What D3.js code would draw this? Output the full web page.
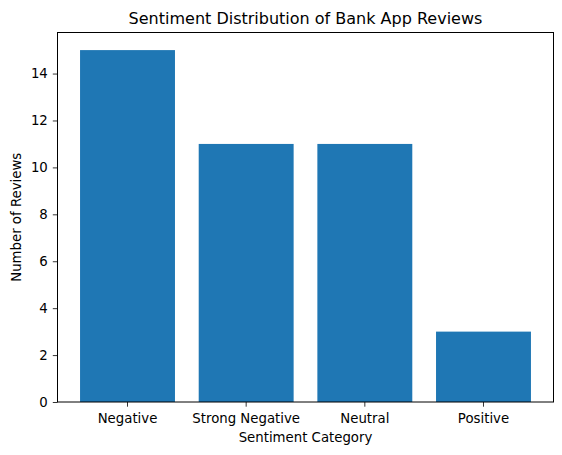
<!DOCTYPE html>
<html>
<head>
<meta charset="utf-8">
<script src="https://cdn.jsdelivr.net/npm/d3@7"></script>
<style>
  body { margin: 0; background: #fff; }
  svg { display: block; font-family: "DejaVu Sans", sans-serif; overflow: visible; }
</style>
</head>
<body>
<svg id="chart"></svg>
<script>
const categories = ['Negative', 'Strong Negative', 'Neutral', 'Positive'];
const reviewCounts = [15, 11, 11, 3];
const yTicks = [0, 2, 4, 6, 8, 10, 12, 14];

const width = 562;
const height = 455;
const margin = { top: 32.5, right: 8.5, bottom: 53, left: 57.5 };
const innerWidth = width - margin.left - margin.right;
const innerHeight = height - margin.top - margin.bottom;

const svg = d3.select('#chart')
  .attr('width', width)
  .attr('height', height);

const g = svg.append('g')
  .attr('transform', `translate(${margin.left},${margin.top})`);

// scales (matplotlib-like: bar width 0.8, 5% margins)
const x = d3.scaleBand()
  .domain(categories)
  .range([0, innerWidth])
  .paddingInner(0.2)
  .paddingOuter(0.19);

const y = d3.scaleLinear()
  .domain([0, d3.max(reviewCounts) * 1.05])
  .range([innerHeight, 0]);

// bars
g.selectAll('.bar')
  .data(categories)
  .enter()
  .append('rect')
  .attr('class', 'bar')
  .attr('x', d => x(d))
  .attr('y', (d, i) => y(reviewCounts[i]))
  .attr('width', x.bandwidth())
  .attr('height', (d, i) => innerHeight - y(reviewCounts[i]))
  .attr('fill', '#1f77b4');

// axes
const xAxis = g.append('g')
  .attr('transform', `translate(0,${innerHeight})`)
  .call(d3.axisBottom(x).tickSizeOuter(0).tickSize(4.7).tickPadding(6.5));

const yAxis = g.append('g')
  .call(d3.axisLeft(y).tickValues(yTicks).tickSizeOuter(0).tickSize(4.7).tickPadding(5));

[xAxis, yAxis].forEach(a => {
  a.select('.domain').remove();
  a.selectAll('.tick line').attr('stroke', '#000').attr('stroke-width', 0.8);
  a.selectAll('text')
    .attr('fill', '#000')
    .style('font-size', '13.3px')
    .style('font-family', '"DejaVu Sans", sans-serif');
});

// frame
g.append('rect')
  .attr('width', innerWidth)
  .attr('height', innerHeight)
  .attr('fill', 'none')
  .attr('stroke', '#000')
  .attr('stroke-width', 1);

// title
svg.append('text')
  .attr('x', margin.left + innerWidth / 2)
  .attr('y', margin.top - 8.5)
  .attr('text-anchor', 'middle')
  .style('font-size', '16px')
  .text('Sentiment Distribution of Bank App Reviews');

// axis labels
svg.append('text')
  .attr('x', margin.left + innerWidth / 2)
  .attr('y', 442)
  .attr('text-anchor', 'middle')
  .style('font-size', '13.3px')
  .text('Sentiment Category');

svg.append('text')
  .attr('transform', `translate(21,${margin.top + innerHeight / 2}) rotate(-90)`)
  .attr('text-anchor', 'middle')
  .style('font-size', '13.3px')
  .text('Number of Reviews');
</script>
</body>
</html>
